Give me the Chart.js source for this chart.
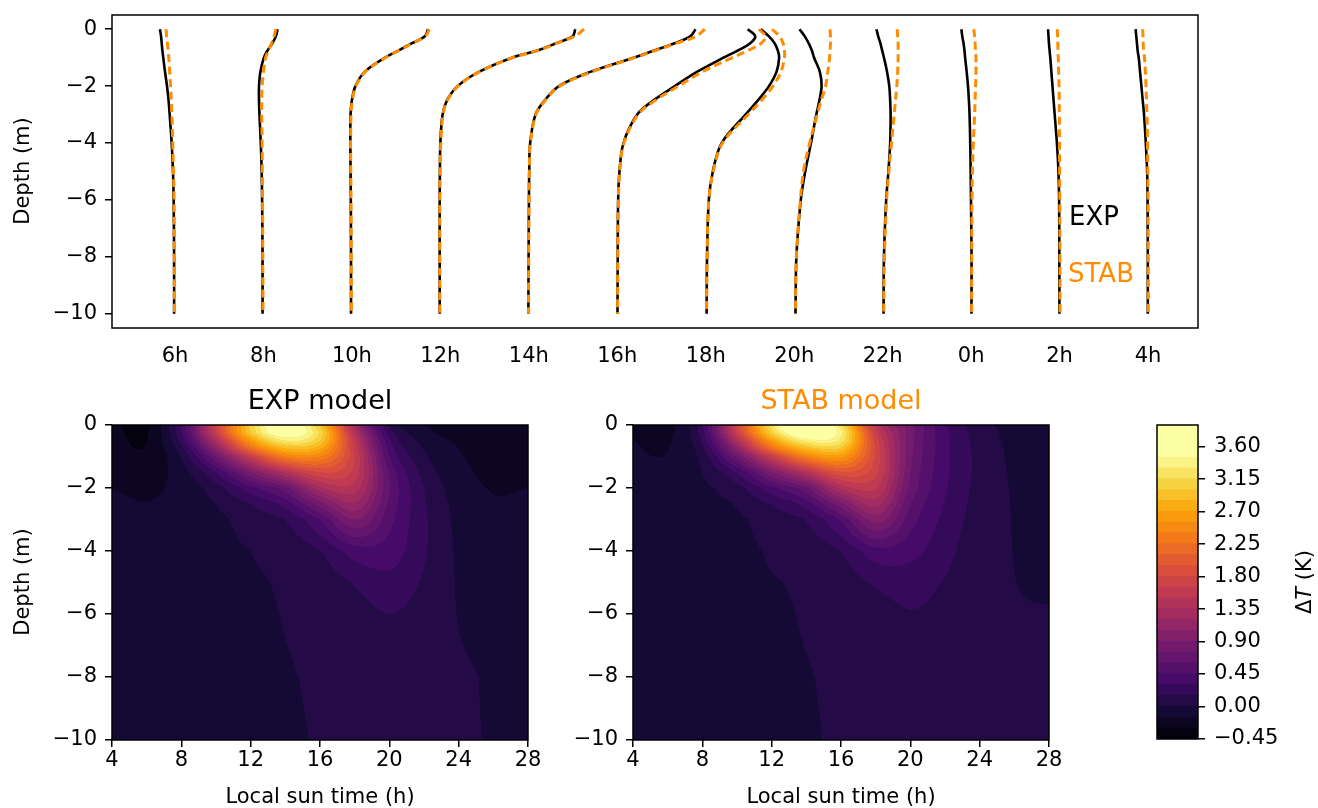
<!DOCTYPE html>
<html>
<head>
<meta charset="utf-8">
<script src="https://cdn.jsdelivr.net/npm/chart.js@4.4.1/dist/chart.umd.min.js"></script>
<style>
  body { margin: 0; background: #fff; width: 1318px; height: 808px; position: relative; overflow: hidden; }
  canvas { position: absolute; }
</style>
</head>
<body>
<canvas id="perfis" width="1318" height="380" style="left:0;top:0"></canvas>
<canvas id="mapaExp" width="560" height="428" style="left:0;top:380px"></canvas>
<canvas id="mapaStab" width="560" height="428" style="left:560px;top:380px"></canvas>
<canvas id="barraCores" width="198" height="428" style="left:1120px;top:380px"></canvas>
<script>
// Horas das colunas (a de 4h só aparece nos mapas) e profundidades (m)
const horas = [4, 6, 8, 10, 12, 14, 16, 18, 20, 22, 24, 26, 28];
const profundidades = [0, -0.25, -0.5, -0.75, -1, -1.5, -2, -2.5, -3, -4, -5, -6, -8, -10];

// Anomalia de temperatura ΔT (K), uma linha por hora, um valor por profundidade
const deltaTExp = [
    [-0.26, -0.255, -0.25, -0.24, -0.23, -0.2, -0.155, -0.12, -0.095, -0.06, -0.04, -0.03, -0.02, -0.02],
    [-0.34, -0.315, -0.3, -0.285, -0.265, -0.225, -0.18, -0.145, -0.12, -0.075, -0.045, -0.03, -0.02, -0.02],
    [0.32, 0.28, 0.2, 0.09, 0.01, -0.07, -0.1, -0.1, -0.09, -0.06, -0.04, -0.03, -0.02, -0.02],
    [1.72, 1.65, 1.35, 1.05, 0.75, 0.29, 0.08, 0.0, -0.03, -0.035, -0.03, -0.025, -0.02, -0.02],
    [3.05, 2.99, 2.6, 2.19, 1.62, 0.87, 0.39, 0.15, 0.05, 0.0, -0.01, -0.015, -0.015, -0.015],
    [3.77, 3.65, 3.28, 2.83, 2.37, 1.39, 0.68, 0.36, 0.15, 0.03, 0.01, 0.003, -0.005, -0.01],
    [2.95, 3.12, 3.0, 2.72, 2.4, 1.8, 1.3, 0.82, 0.45, 0.14, 0.05, 0.02, 0.01, 0.005],
    [1.24, 1.43, 1.56, 1.63, 1.66, 1.6, 1.43, 1.18, 0.9, 0.36, 0.16, 0.07, 0.03, 0.02],
    [0.12, 0.24, 0.33, 0.4, 0.45, 0.58, 0.62, 0.57, 0.5, 0.38, 0.25, 0.15, 0.05, 0.03],
    [-0.14, -0.1, -0.05, -0.01, 0.03, 0.1, 0.15, 0.17, 0.18, 0.17, 0.13, 0.08, 0.03, 0.02],
    [-0.22, -0.2, -0.17, -0.15, -0.135, -0.1, -0.07, -0.05, -0.035, -0.02, -0.01, -0.003, 0.01, 0.008],
    [-0.26, -0.25, -0.24, -0.225, -0.21, -0.185, -0.16, -0.135, -0.11, -0.06, -0.025, -0.01, -0.005, -0.003],
    [-0.28, -0.265, -0.25, -0.235, -0.21, -0.18, -0.15, -0.12, -0.09, -0.05, -0.02, -0.01, -0.005, -0.005]
];
const deltaTStab = [
    [-0.17, -0.165, -0.15, -0.14, -0.13, -0.11, -0.09, -0.075, -0.06, -0.04, -0.03, -0.02, -0.015, -0.01],
    [-0.2, -0.19, -0.17, -0.155, -0.14, -0.12, -0.1, -0.085, -0.07, -0.05, -0.035, -0.02, -0.015, -0.01],
    [0.28, 0.24, 0.18, 0.11, 0.05, 0.0, -0.03, -0.04, -0.04, -0.03, -0.025, -0.02, -0.015, -0.01],
    [1.75, 1.66, 1.36, 1.06, 0.76, 0.3, 0.09, 0.01, -0.02, -0.03, -0.025, -0.02, -0.015, -0.01],
    [3.25, 3.03, 2.62, 2.2, 1.63, 0.88, 0.4, 0.16, 0.06, 0.01, -0.005, -0.01, -0.01, -0.01],
    [3.98, 3.78, 3.32, 2.86, 2.4, 1.42, 0.7, 0.37, 0.16, 0.035, 0.012, 0.005, -0.003, -0.006],
    [3.2, 3.35, 3.25, 2.95, 2.6, 1.92, 1.38, 0.86, 0.47, 0.15, 0.055, 0.025, 0.012, 0.008],
    [1.5, 1.67, 1.75, 1.78, 1.78, 1.7, 1.52, 1.26, 0.96, 0.38, 0.17, 0.07, 0.03, 0.02],
    [0.81, 0.82, 0.82, 0.81, 0.8, 0.76, 0.71, 0.61, 0.52, 0.35, 0.21, 0.14, 0.05, 0.03],
    [0.33, 0.34, 0.35, 0.35, 0.35, 0.34, 0.32, 0.29, 0.26, 0.2, 0.14, 0.09, 0.04, 0.025],
    [0.06, 0.08, 0.09, 0.1, 0.11, 0.11, 0.1, 0.09, 0.08, 0.05, 0.03, 0.02, 0.015, 0.012],
    [-0.05, -0.045, -0.04, -0.035, -0.03, -0.02, -0.012, -0.008, -0.005, -0.002, 0.001, 0.005, 0.01, 0.01],
    [-0.12, -0.115, -0.11, -0.1, -0.08, -0.06, -0.045, -0.035, -0.025, -0.012, -0.005, 0.002, 0.005, 0.006]
];

// Rótulos e marcas dos eixos
const horasPerfis = [6, 8, 10, 12, 14, 16, 18, 20, 22, 24, 26, 28];
const rotulosHoras = ['6h', '8h', '10h', '12h', '14h', '16h', '18h', '20h', '22h', '0h', '2h', '4h'];
const ticksProfundidade = [-10, -8, -6, -4, -2, 0];
const ticksTempo = [4, 8, 12, 16, 20, 24, 28];
const niveis = [-0.45, -0.30, -0.15, 0.00, 0.15, 0.30, 0.45, 0.60, 0.75, 0.90, 1.05, 1.20, 1.35, 1.50, 1.65,
    1.80, 1.95, 2.10, 2.25, 2.40, 2.55, 2.70, 2.85, 3.00, 3.15, 3.30, 3.45, 3.60, 3.75, 3.90];
const ticksBarra = [-0.45, 0.00, 0.45, 0.90, 1.35, 1.80, 2.25, 2.70, 3.15, 3.60];

const FONTE = "'DejaVu Sans', sans-serif";
const LARANJA = '#ff8c00';
const fonteTicks = { family: FONTE, size: 21 };

// Paleta inferno (paradas a cada 0.1)
const paradasInferno = ['#000004', '#160b39', '#420a68', '#6a176e', '#932667', '#bc3754',
    '#dd513a', '#f37819', '#fca50a', '#f6d746', '#fcffa4'];
function hexParaRgb(h) {
    return [parseInt(h.slice(1, 3), 16), parseInt(h.slice(3, 5), 16), parseInt(h.slice(5, 7), 16)];
}
function inferno(t) {
    t = Math.min(1, Math.max(0, t));
    const p = t * (paradasInferno.length - 1);
    const i = Math.min(paradasInferno.length - 2, Math.floor(p));
    const f = p - i;
    const a = hexParaRgb(paradasInferno[i]), b = hexParaRgb(paradasInferno[i + 1]);
    return [0, 1, 2].map(k => Math.round(a[k] + (b[k] - a[k]) * f));
}
const VMIN = -0.45, VMAX = 3.5;
const coresFaixas = [];
for (let i = 0; i < niveis.length - 1; i++) {
    const meio = (niveis[i] + niveis[i + 1]) / 2;
    coresFaixas.push(inferno((meio - VMIN) / (VMAX - VMIN)));
}
function indiceFaixa(v) {
    let i = 0;
    while (i < niveis.length - 2 && v >= niveis[i + 1]) i++;
    return i;
}

// Valor da grade num ponto (t, z): Catmull-Rom no tempo, linear na profundidade
function valorNaGrade(grade, t, z) {
    const n = horas.length;
    let i = 0;
    while (i < n - 2 && t > horas[i + 1]) i++;
    const u = Math.min(1, Math.max(0, (t - horas[i]) / (horas[i + 1] - horas[i])));
    let j = 0;
    while (j < profundidades.length - 2 && z < profundidades[j + 1]) j++;
    const f = Math.min(1, Math.max(0, (z - profundidades[j]) / (profundidades[j + 1] - profundidades[j])));
    const coluna = idx => {
        const k = Math.min(n - 1, Math.max(0, idx));
        return grade[k][j] * (1 - f) + grade[k][j + 1] * f;
    };
    const p0 = coluna(i - 1), p1 = coluna(i), p2 = coluna(i + 1), p3 = coluna(i + 2);
    return 0.5 * (2 * p1 + (-p0 + p2) * u + (2 * p0 - 5 * p1 + 4 * p2 - p3) * u * u
        + (-p0 + 3 * p1 - 3 * p2 + p3) * u * u * u);
}

const formatarProf = v => String(v).replace('-', '\u2212');

// Moldura preta em volta da área do gráfico
const moldura = {
    id: 'moldura',
    afterDraw(chart) {
        const a = chart.chartArea, ctx = chart.ctx;
        ctx.save();
        ctx.strokeStyle = '#000';
        ctx.lineWidth = 1.5;
        ctx.strokeRect(a.left, a.top, a.right - a.left, a.bottom - a.top);
        ctx.restore();
    }
};

// Textos livres (títulos, rótulos dos eixos, legenda)
function pluginTextos(itens) {
    return {
        id: 'textos',
        afterDraw(chart) {
            const ctx = chart.ctx;
            itens.forEach(item => {
                ctx.save();
                ctx.translate(item.x, item.y);
                if (item.rotacao) ctx.rotate(item.rotacao);
                ctx.fillStyle = item.cor || '#000';
                ctx.textBaseline = item.base || 'middle';
                ctx.textAlign = 'left';
                const partes = item.partes || [{ t: item.texto }];
                const fonte = p => (p.italico ? 'italic ' : '') + item.tamanho + 'px ' + FONTE;
                let total = 0;
                partes.forEach(p => { ctx.font = fonte(p); total += ctx.measureText(p.t).width; });
                let x = item.alinhamento === 'left' ? 0 : -total / 2;
                partes.forEach(p => {
                    ctx.font = fonte(p);
                    ctx.fillText(p.t, x, 0);
                    x += ctx.measureText(p.t).width;
                });
                ctx.restore();
            });
        }
    };
}

// Mapa de contornos preenchidos desenhado pelas escalas do gráfico
function pluginMapa(grade) {
    return {
        id: 'mapa',
        beforeDatasetsDraw(chart) {
            const a = chart.chartArea;
            const w = Math.round(a.right - a.left), h = Math.round(a.bottom - a.top);
            const tela = document.createElement('canvas');
            tela.width = w; tela.height = h;
            const tctx = tela.getContext('2d');
            const img = tctx.createImageData(w, h);
            const sx = chart.scales.x, sy = chart.scales.y;
            for (let py = 0; py < h; py++) {
                const z = sy.getValueForPixel(a.top + py + 0.5);
                for (let px = 0; px < w; px++) {
                    const t = sx.getValueForPixel(a.left + px + 0.5);
                    const c = coresFaixas[indiceFaixa(valorNaGrade(grade, t, z))];
                    const k = (py * w + px) * 4;
                    img.data[k] = c[0]; img.data[k + 1] = c[1]; img.data[k + 2] = c[2]; img.data[k + 3] = 255;
                }
            }
            tctx.putImageData(img, 0, 0);
            chart.ctx.drawImage(tela, a.left, a.top);
        }
    };
}

function eixoY(largura) {
    return {
        type: 'linear',
        afterBuildTicks: s => { s.ticks = ticksProfundidade.map(v => ({ value: v })); },
        afterFit: s => { s.width = largura; s.paddingTop = 0; s.paddingBottom = 0; },
        grid: { drawOnChartArea: false, tickLength: 7, color: '#000', lineWidth: 1.5 },
        border: { display: false },
        ticks: { callback: v => formatarProf(v), font: fonteTicks, color: '#000', padding: 8 }
    };
}

// ---------- Painel superior: perfis ----------
const conjuntosPerfis = [];
horasPerfis.forEach((h, k) => {
    const linha = k + 1;
    conjuntosPerfis.push({
        data: profundidades.map((z, j) => ({ x: h + deltaTStab[linha][j], y: z })),
        borderColor: LARANJA, borderWidth: 3, borderDash: [8, 4.5], order: 0
    });
    conjuntosPerfis.push({
        data: profundidades.map((z, j) => ({ x: h + deltaTExp[linha][j], y: z })),
        borderColor: '#000', borderWidth: 2.6, order: 1
    });
});

new Chart(document.getElementById('perfis'), {
    type: 'scatter',
    data: { datasets: conjuntosPerfis },
    options: {
        responsive: false,
        animation: false,
        layout: { padding: { top: 15, right: 120, left: 0, bottom: 0 } },
        plugins: { legend: { display: false }, tooltip: { enabled: false } },
        elements: { point: { radius: 0 }, line: { tension: 0.35 } },
        datasets: { scatter: { showLine: true } },
        scales: {
            x: {
                type: 'linear', min: 4.576, max: 29.13,
                afterBuildTicks: s => { s.ticks = horasPerfis.map(v => ({ value: v })); },
                afterFit: s => { s.height = 52; s.paddingLeft = 0; s.paddingRight = 0; },
                grid: { drawOnChartArea: false, drawTicks: false },
                border: { display: false },
                ticks: { callback: (v, i) => rotulosHoras[i], font: fonteTicks, color: '#000', padding: 16, maxRotation: 0, autoSkip: false }
            },
            y: Object.assign(eixoY(112), { min: -10.5, max: 0.5 })
        }
    },
    plugins: [moldura, pluginTextos([
        { texto: 'Depth (m)', x: 24, y: 171, tamanho: 21, rotacao: -Math.PI / 2 },
        { texto: 'EXP', x: 1069, y: 218, tamanho: 26, alinhamento: 'left' },
        { texto: 'STAB', x: 1068, y: 275, tamanho: 26, alinhamento: 'left', cor: LARANJA }
    ])]
});

// ---------- Mapas inferiores ----------
function criarMapa(id, grade, larguraY, paddingDireita, textos) {
    new Chart(document.getElementById(id), {
        type: 'scatter',
        data: { datasets: [{ data: [] }] },
        options: {
            responsive: false,
            animation: false,
            layout: { padding: { top: 45, right: paddingDireita, left: 0, bottom: 0 } },
            plugins: { legend: { display: false }, tooltip: { enabled: false } },
            scales: {
                x: {
                    type: 'linear', min: 4, max: 28,
                    afterBuildTicks: s => { s.ticks = ticksTempo.map(v => ({ value: v })); },
                    afterFit: s => { s.height = 68; s.paddingLeft = 0; s.paddingRight = 0; },
                    grid: { drawOnChartArea: false, tickLength: 7, color: '#000', lineWidth: 1.5 },
                    border: { display: false },
                    ticks: { font: fonteTicks, color: '#000', padding: 1, maxRotation: 0, autoSkip: false }
                },
                y: Object.assign(eixoY(larguraY), { min: -10, max: 0 })
            }
        },
        plugins: [pluginMapa(grade), moldura, pluginTextos(textos)]
    });
}

criarMapa('mapaExp', deltaTExp, 112, 32, [
    { texto: 'EXP model', x: 320, y: 22, tamanho: 27 },
    { texto: 'Local sun time (h)', x: 320, y: 418, tamanho: 21 },
    { texto: 'Depth (m)', x: 24, y: 202, tamanho: 21, rotacao: -Math.PI / 2 }
]);
criarMapa('mapaStab', deltaTStab, 73, 71, [
    { texto: 'STAB model', x: 281, y: 22, tamanho: 27, cor: LARANJA },
    { texto: 'Local sun time (h)', x: 281, y: 418, tamanho: 21 }
]);

// ---------- Barra de cores ----------
new Chart(document.getElementById('barraCores'), {
    type: 'bar',
    data: {
        labels: ['ΔT'],
        datasets: coresFaixas.map((c, i) => ({
            data: [[niveis[i], niveis[i + 1]]],
            backgroundColor: 'rgb(' + c.join(',') + ')',
            borderWidth: 0, inflateAmount: 0.7, base: niveis[0],
            grouped: false, barPercentage: 1, categoryPercentage: 1
        }))
    },
    options: {
        responsive: false,
        animation: false,
        layout: { padding: { top: 45, right: 0, left: 37, bottom: 69 } },
        plugins: { legend: { display: false }, tooltip: { enabled: false } },
        scales: {
            x: { display: false },
            y: {
                position: 'right', min: -0.45, max: 3.9,
                afterBuildTicks: s => { s.ticks = ticksBarra.map(v => ({ value: v })); },
                afterFit: s => { s.width = 120; s.paddingTop = 0; s.paddingBottom = 0; },
                grid: { drawOnChartArea: false, tickLength: 7, color: '#000', lineWidth: 1.5 },
                border: { display: false },
                ticks: { callback: v => v.toFixed(2).replace('-', '\u2212'), font: fonteTicks, color: '#000', padding: 9 }
            }
        }
    },
    plugins: [moldura, pluginTextos([
        { partes: [{ t: 'Δ' }, { t: 'T', italico: true }, { t: ' (K)' }], x: 186, y: 202, tamanho: 21, rotacao: -Math.PI / 2 }
    ])]
});
</script>
</body>
</html>
